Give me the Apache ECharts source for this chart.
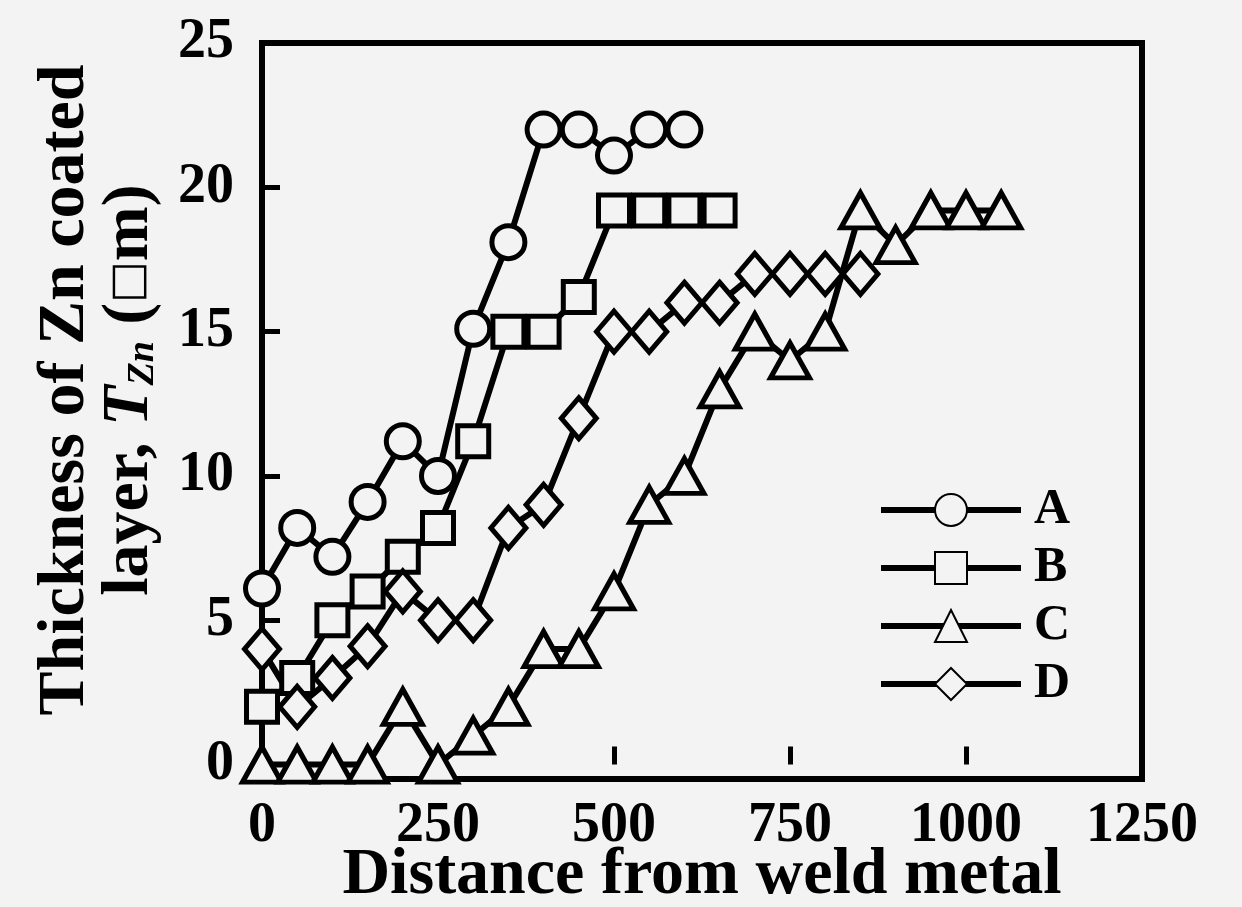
<!DOCTYPE html>
<html>
<head>
<meta charset="utf-8" />
<title>Thickness of Zn coated layer</title>
<script src="https://cdn.jsdelivr.net/npm/echarts@6/dist/echarts.min.js"></script>
<style>
	html,
	body {
		margin: 0;
		padding: 0;
		background: #f3f3f3;
	}
	#chart {
		width: 1242px;
		height: 907px;
	}
</style>
</head>
<body>
<div id="chart"></div>
<script>
// distance from weld metal, one list per series
const distA = [0, 50, 100, 150, 200, 250, 300, 350, 400, 450, 500, 550, 600];
const distB = [0, 50, 100, 150, 200, 250, 300, 350, 400, 450, 500, 550, 600, 650];
const distC = [0, 50, 100, 150, 200, 250, 300, 350, 400, 450, 500, 550, 600, 650, 700, 750, 800, 850, 900, 950, 1000, 1050];
const distD = [0, 50, 100, 150, 200, 250, 300, 350, 400, 450, 500, 550, 600, 650, 700, 750, 800, 850];

// thickness of Zn coated layer
const thickA = [6.1, 8.2, 7.2, 9.1, 11.2, 10, 15.1, 18.1, 22, 22, 21.1, 22, 22];
const thickB = [2, 3, 5, 6, 7.2, 8.2, 11.2, 15, 15, 16.2, 19.2, 19.2, 19.2, 19.2];
const thickC = [0, 0, 0, 0, 2, 0, 1, 2, 4, 4, 6, 9, 10, 13, 15, 14, 15, 19.2, 18, 19.2, 19.2, 19.2];
const thickD = [4, 2, 3, 4.1, 6, 5, 5, 8.2, 9, 12, 15, 15, 16, 16, 17, 17, 17, 17];

const seriesNames = ["A", "B", "C", "D"];
const yTicks = [0, 5, 10, 15, 20, 25];

const font = "Liberation Serif";

const symbols = [
	{ symbol: "circle", size: 33 },
	{ symbol: "rect", size: [31, 31] },
	{ symbol: "triangle", size: [39, 35] },
	{ symbol: "diamond", size: [35, 41] },
];

const pairs = (xs, ys) => xs.map((x, i) => [x, ys[i]]);
const allData = [pairs(distA, thickA), pairs(distB, thickB), pairs(distC, thickC), pairs(distD, thickD)];

const option = {
	backgroundColor: "#f3f3f3",
	animation: false,
	textStyle: { fontFamily: font, fontWeight: "bold", color: "#000" },
	grid: {
		left: 262,
		right: 100,
		top: 43,
		bottom: 128,
		outerBoundsMode: "none",
		containLabel: false,
		show: true,
		borderColor: "#000",
		borderWidth: 6,
		backgroundColor: "transparent",
	},
	legend: {
		orient: "vertical",
		left: 878,
		top: 485,
		padding: 0,
		itemWidth: 140,
		itemHeight: 40,
		itemGap: 8,
		data: seriesNames,
		lineStyle: { width: 6 },
		textStyle: {
			fontFamily: font,
			fontWeight: "bold",
			fontSize: 50,
			lineHeight: 48,
			color: "#000",
			padding: [0, 0, 0, 8],
		},
	},
	xAxis: {
		type: "value",
		min: 0,
		max: 1250,
		interval: 250,
		name: "Distance from weld metal",
		nameLocation: "middle",
		nameGap: 64,
		nameMoveOverlap: false,
		nameTextStyle: { fontFamily: font, fontWeight: "bold", fontSize: 66, color: "#000" },
		axisLine: { show: false },
		axisTick: { inside: true, length: 18, lineStyle: { color: "#000", width: 5 } },
		axisLabel: {
			fontFamily: font,
			fontWeight: "bold",
			fontSize: 56,
			color: "#000",
			margin: 20,
			formatter: v => String(v),
		},
		splitLine: { show: false },
	},
	yAxis: {
		type: "value",
		min: -0.5,
		max: 25,
		name: "Thickness of Zn coated\nlayer, {it|T}{sub|Zn} ({box|\u25a1}m)",
		nameLocation: "middle",
		nameRotate: 90,
		nameGap: 100,
		nameMoveOverlap: false,
		nameTextStyle: {
			fontFamily: font,
			fontWeight: "bold",
			fontSize: 66,
			lineHeight: 64,
			color: "#000",
			padding: [0, 0, 0, 42],
			rich: {
				it: { fontFamily: font, fontWeight: "bold", fontStyle: "italic", fontSize: 66, color: "#000" },
				sub: {
					fontFamily: font,
					fontWeight: "bold",
					fontStyle: "italic",
					fontSize: 38,
					color: "#000",
					verticalAlign: "bottom",
					padding: [28, 0, 0, 0],
				},
				box: { fontFamily: "DejaVu Sans", fontWeight: "bold", fontSize: 44, color: "#000" },
			},
		},
		axisLine: { show: false },
		axisTick: {
			inside: true,
			length: 18,
			customValues: yTicks.slice(1, -1),
			lineStyle: { color: "#000", width: 5 },
		},
		axisLabel: {
			fontFamily: font,
			fontWeight: "bold",
			fontSize: 56,
			color: "#000",
			margin: 28,
			customValues: yTicks,
		},
		splitLine: { show: false },
	},
	series: seriesNames.map((name, i) => ({
		type: "line",
		name: name,
		data: allData[i],
		clip: false,
		symbol: symbols[i].symbol,
		symbolSize: symbols[i].size,
		lineStyle: { color: "#000", width: 6 },
		itemStyle: { color: "#f3f3f3", borderColor: "#000", borderWidth: 5 },
		emphasis: { disabled: true },
	})),
};

const myEcharts = echarts.init(document.getElementById("chart"));
myEcharts.setOption(option);
</script>
</body>
</html>
